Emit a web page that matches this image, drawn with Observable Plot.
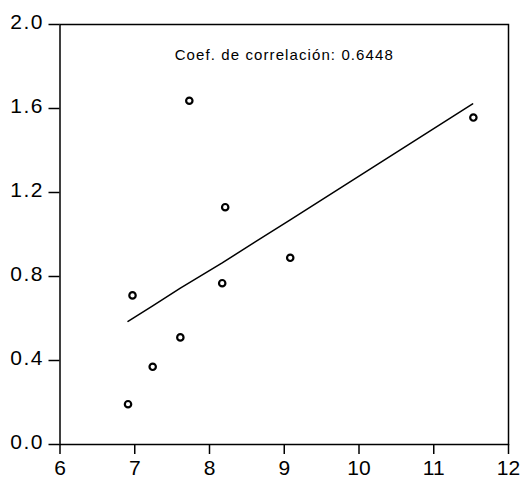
<!DOCTYPE html>
<html>
<head>
<meta charset="utf-8">
<script src="https://cdn.jsdelivr.net/npm/d3@7"></script>
<script src="https://cdn.jsdelivr.net/npm/@observablehq/plot@0.6"></script>
<style>
  html, body { margin: 0; padding: 0; background: #fff; }
  #chart svg { display: block; }
</style>
</head>
<body>
<div id="chart"></div>
<script>
// Scatter points
const xValues = [6.91, 6.97, 7.24, 7.61, 7.73, 8.17, 8.21, 9.08, 11.53];
const yValues = [0.192, 0.710, 0.370, 0.510, 1.637, 0.768, 1.130, 0.889, 1.557];

// Fitted line
const fitX = [6.91, 7.24, 7.61, 8.17, 9.08, 11.52];
const fitY = [0.586, 0.660, 0.745, 0.865, 1.070, 1.622];

const xTicks = [6, 7, 8, 9, 10, 11, 12];
const yTicks = [0.0, 0.4, 0.8, 1.2, 1.6, 2.0];
const annotation = "Coef. de correlación: 0.6448";

const points = xValues.map((x, i) => ({x, y: yValues[i]}));
const fit = fitX.map((x, i) => ({x, y: fitY[i]}));

const chart = Plot.plot({
  width: 523,
  height: 479,
  marginLeft: 59.5,
  marginRight: 15,
  marginTop: 24,
  marginBottom: 35,
  style: {fontFamily: "'Liberation Sans', Arial, sans-serif", color: "black", background: "white"},
  x: {domain: [6, 12]},
  y: {domain: [0, 2]},
  marks: [
    Plot.frame({stroke: "black", strokeWidth: 1.5}),
    Plot.axisX({ticks: xTicks, tickSize: 10, tickPadding: 6, fontSize: 21, strokeWidth: 1.5, tickFormat: d3.format("d"), label: null}),
    Plot.axisY({ticks: yTicks, tickSize: 11, tickPadding: 5, fontSize: 21, strokeWidth: 1.5, tickFormat: d3.format(".1f"), label: null}),
    Plot.line(fit, {x: "x", y: "y", stroke: "black", strokeWidth: 1.5}),
    Plot.dot(points, {x: "x", y: "y", r: 3.2, stroke: "black", strokeWidth: 2.2, fill: "white"}),
    Plot.text([annotation], {frameAnchor: "top", dy: 25, text: d => d, fontSize: 15, fill: "black"})
  ]
});

document.getElementById("chart").appendChild(chart);
const yLabels = d3.select(chart).select('g[aria-label="y-axis tick label"]');
yLabels.attr("transform", (yLabels.attr("transform") || "") + " translate(0,-2)");
yLabels.selectAll("text").style("letter-spacing", "1.5px");
d3.select(chart).selectAll('g[aria-label="text"] text').style("letter-spacing", "1.1px");
</script>
</body>
</html>
